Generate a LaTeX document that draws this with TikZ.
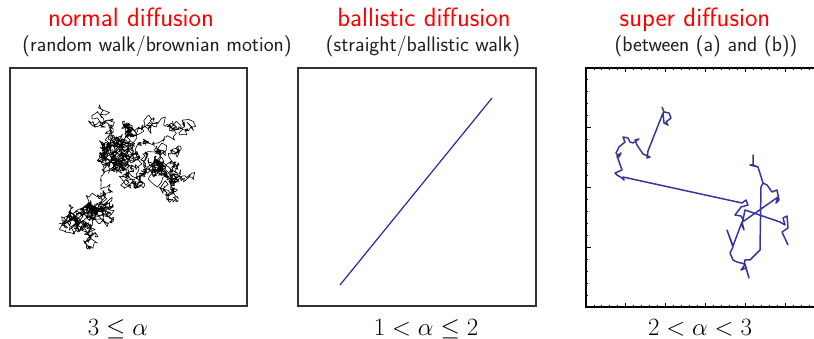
\documentclass[tikz,border=0pt]{standalone}
\usepackage{tikz}
\definecolor{titlered}{RGB}{255,0,0}
\definecolor{lineblue}{RGB}{40,40,165}
\definecolor{levyblue}{RGB}{55,55,155}
\tikzset{
 titletext/.style={text=titlered, font=\sffamily\fontsize{26.5}{30}\selectfont, anchor=base, inner sep=0pt},
 subtext/.style={text=black!88, font=\sffamily\fontsize{21.1}{24}\selectfont, anchor=base, inner sep=0pt},
 mathlabel/.style={font=\fontsize{25.5}{30}\selectfont, anchor=base, inner sep=0pt},
 panelbox/.style={draw=black!80, line width=1.1pt},
 levybox/.style={draw=black, line width=1.5pt},
 brownwalk/.style={draw=black, line width=0.6pt, line join=round},
 ballline/.style={draw=lineblue, line width=1.2pt},
 levyline/.style={draw=levyblue, line width=1.5pt, line join=round},
 tickmark/.style={draw=black, line width=0.9pt},
}
\newcommand\addwalkseg[5]{%
  \foreach \wi in {1,...,#5}{%
    \pgfmathsetmacro\wnx{\wx+#4*rand+#3*(#1-\wx)}%
    \pgfmathsetmacro\wny{\wy+#4*rand+#3*(#2-\wy)}%
    \xdef\wx{\wnx}\xdef\wy{\wny}%
    \xdef\walkpath{\walkpath -- (\wx,\wy)}%
  }%
}
\begin{document}
\begin{tikzpicture}[x=1pt,y=-1pt]
\useasboundingbox (0,0) rectangle (814,339);
% titles
\node[titletext] (t1) at (131,27) {normal diffusion};
\node[titletext] (t2) at (424,27) {ballistic diffusion};
\node[titletext] (t3) at (695,27) {super diffusion};
\node[subtext] (s1) at (157,52) {(random walk/brownian motion)};
\node[subtext] (s2) at (423,52) {(straight/ballistic walk)};
\node[subtext] (s3) at (706,52) {(between (a) and (b))};
% bottom labels
\node[mathlabel] (m1) at (118,335) {$3\leq\alpha$};
\node[mathlabel] (m2) at (426,335) {$1<\alpha\leq 2$};
\node[mathlabel] (m3) at (700,335) {$2<\alpha<3$};
% panel 1
\draw[panelbox] (10,68) rectangle (247,306);
\pgfmathsetseed{4242}
\xdef\wx{88}\xdef\wy{247}\gdef\walkpath{}
\addwalkseg{86}{234}{0.07}{4.5}{35}
\addwalkseg{94}{212}{0.03}{4.6}{480}
\addwalkseg{104}{188}{0.07}{4.5}{30}
\addwalkseg{118}{142}{0.03}{4.6}{520}
\addwalkseg{102}{108}{0.08}{4.5}{35}
\addwalkseg{128}{132}{0.05}{4.5}{160}
\addwalkseg{150}{122}{0.08}{4.5}{35}
\addwalkseg{184}{118}{0.08}{4.5}{45}
\addwalkseg{160}{132}{0.08}{4.5}{30}
\addwalkseg{130}{162}{0.07}{4.5}{30}
\addwalkseg{118}{182}{0.08}{4.5}{35}
\addwalkseg{145}{182}{0.08}{4.5}{30}
\addwalkseg{168}{168}{0.03}{4.6}{460}
\edef\browndraw{\noexpand\draw[brownwalk] (88,247) \walkpath;}
\browndraw
% panel 2
\draw[panelbox] (298,68) rectangle (536,306);
\coordinate (b0) at (340,285);
\coordinate (b1) at (492,98);
\draw[ballline] (b0) -- (b1);
% panel 3
\begin{scope}
\clip (0,0) rectangle (814,339);
\draw[levybox] (586,68) rectangle (825,307);
\foreach \k in {0,...,30}{
  \pgfmathsetmacro\tkx{586+\k*239/30}
  \pgfmathsetmacro\tkl{(mod(\k,5)==0)?4.5:2.2}
  \draw[tickmark] (\tkx,68) -- ++(0,\tkl);
  \draw[tickmark] (\tkx,307) -- ++(0,-\tkl);
}
\foreach \k in {0,...,20}{
  \pgfmathsetmacro\tky{68+\k*239/20}
  \pgfmathsetmacro\tkl{(mod(\k,5)==0)?4.5:2.2}
  \draw[tickmark] (586,\tky) -- ++(\tkl,0);
}
\draw[levyline] (662,107) -- (664,112) -- (669,113) -- (671,118) -- (666,122) -- (668,125) -- (664,123) -- (663,113) -- (648,151) -- (647,158) -- (650,157) -- (643,154) -- (637,145) -- (635,140) -- (639,139) -- (633,143) -- (630,142) -- (628,138) -- (623,137) -- (625,142) -- (619,147) -- (616,153) -- (619,157) -- (621,153) -- (617,156) -- (622,170) -- (615,173) -- (617,175) -- (622,178) -- (624,180) -- (623,177) -- (742,203) -- (746,200) -- (748,205) -- (741,207) -- (735,215) -- (741,216) -- (744,221) -- (778,197) -- (776,203) -- (779,200) -- (777,190) -- (772,192) -- (767,185) -- (763,183) -- (758,167) -- (750,165) -- (753,165) -- (753,155) -- (753,165) -- (758,167) -- (763,183) -- (761,187) -- (760,250) -- (750,260) -- (745,260) -- (744,266) -- (741,270) -- (746,268) -- (749,278) -- (745,264) -- (737,262) -- (733,260) -- (730,253) -- (733,247) -- (727,230) -- (733,246) -- (742,222) -- (744,230) -- (742,225) -- (745,210) -- (780,222) -- (785,225) -- (783,218) -- (787,216) -- (788,228) -- (782,232) -- (788,245);
\end{scope}
\end{tikzpicture}
\end{document}
